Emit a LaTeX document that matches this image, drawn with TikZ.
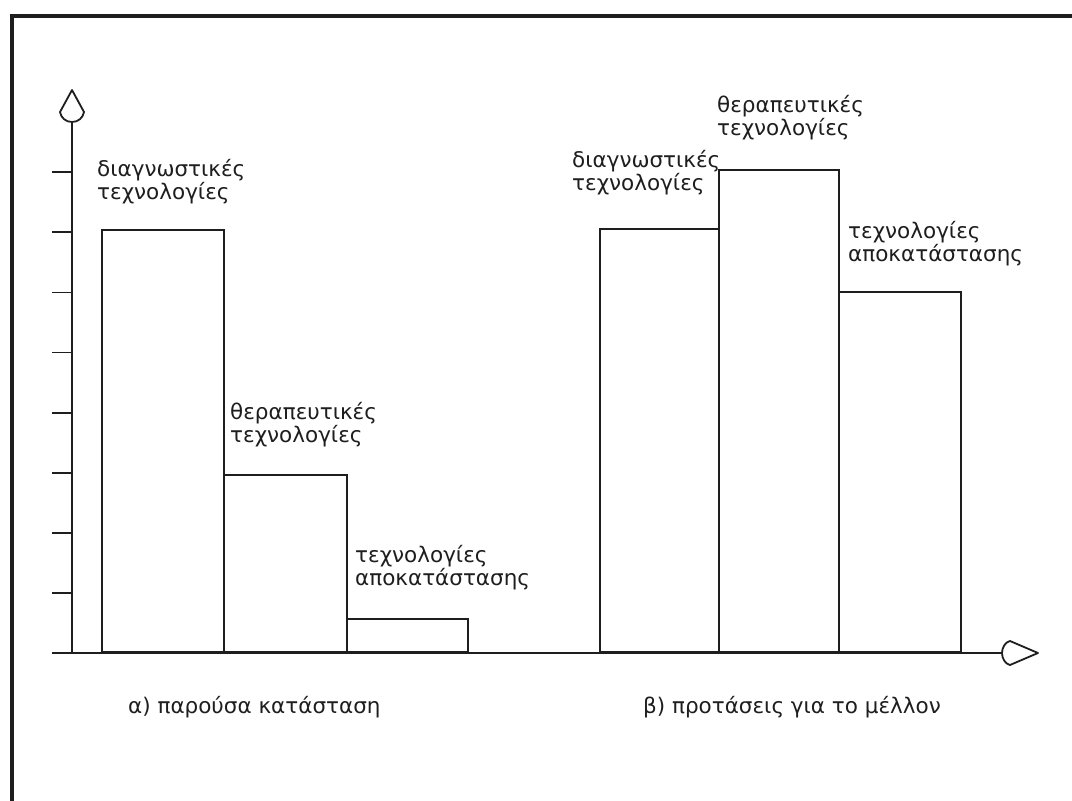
\documentclass[tikz,border=0pt]{standalone}
\usepackage{fontspec}
\setmainfont{DejaVu Sans}
\definecolor{ink}{HTML}{1E1E1E}
\begin{document}
\begin{tikzpicture}[x=1pt,y=-1pt,
  inkln/.style={draw=ink,line width=1.8pt},
  barbox/.style={inkln,rectangle,inner sep=0pt,anchor=south west},
  labtxt/.style={anchor=base west,align=left,inner sep=0pt,text=ink,
    font=\fontsize{21.5}{23}\selectfont},
  captxt/.style={anchor=base west,inner sep=0pt,text=ink,
    font=\fontsize{21.5}{23}\selectfont},
  tickln/.style={inkln}]
\useasboundingbox (0,0) rectangle (1072,801);
% frame
\draw[draw=ink,line width=3.2pt] (12,801) -- (12,16) -- (1072,16);
% axes
\coordinate (O) at (72,653);
\coordinate (ytop) at (72,122);
\coordinate (xleft) at (52,653);
\coordinate (xend) at (1002,653);
\draw[inkln] (O) -- (ytop);
\draw[inkln] (xleft) -- (xend);
% arrowheads (open)
\draw[inkln,line join=round] (72,90) -- (84,112) .. controls (83,118) and (78,122) .. (ytop)
  .. controls (66,122) and (61,118) .. (60,112) -- cycle;
\draw[inkln,line join=round] (1038,653) -- (1010,641) .. controls (1005,642) and (1002,648) .. (xend)
  .. controls (1002,658) and (1005,664) .. (1010,665) -- cycle;
% ticks
\foreach \k in {1,...,8}{
  \coordinate (t\k) at (72,{653-60.1*\k});
  \draw[tickln] (t\k) -- ++(-20,0);
}
% bars, present
\node[barbox,minimum width=122pt,minimum height=422pt] (a1) at (101,653) {};
\node[barbox,minimum width=123pt,minimum height=177pt] (a2) at (223,653) {};
\node[barbox,minimum width=121pt,minimum height=33pt] (a3) at (346,653) {};
% bars, future
\node[barbox,minimum width=119pt,minimum height=423pt] (b1) at (599,653) {};
\node[barbox,minimum width=120pt,minimum height=482pt] (b2) at (718,653) {};
\node[barbox,minimum width=122pt,minimum height=360pt] (b3) at (838,653) {};
% labels
\node[labtxt] (la1) at (97,199) {διαγνωστικές\\τεχνολογίες};
\node[labtxt] (la2) at (230,442) {θεραπευτικές\\τεχνολογίες};
\node[labtxt] (la3) at (355,585) {τεχνολογίες\\αποκατάστασης};
\node[labtxt] (lb1) at (572,190) {διαγνωστικές\\τεχνολογίες};
\node[labtxt] (lb2) at (717,135) {θεραπευτικές\\τεχνολογίες};
\node[labtxt] (lb3) at (848,261) {τεχνολογίες\\αποκατάστασης};
% captions
\node[captxt] (ca) at (128,713) {α) παρούσα κατάσταση};
\node[captxt] (cb) at (643,713) {β) προτάσεις για το μέλλον};
\end{tikzpicture}
\end{document}
